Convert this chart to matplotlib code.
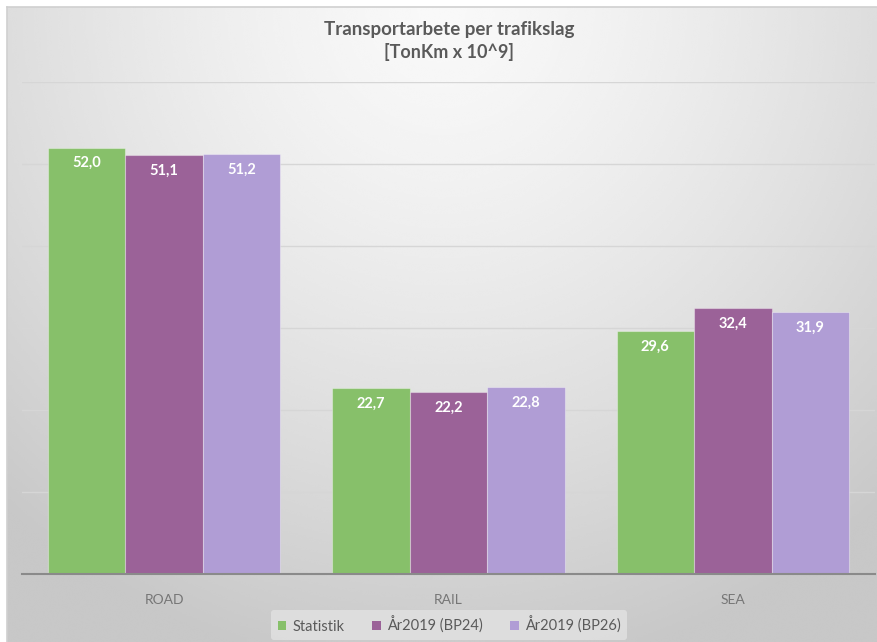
import numpy as np
import matplotlib.pyplot as plt
from matplotlib.patches import Patch

plt.rcParams["font.family"] = ["Lato", "DejaVu Sans"]

categories = ["ROAD", "RAIL", "SEA"]
series_names = ["Statistik", "År2019 (BP24)", "År2019 (BP26)"]
statistik = [52.0, 22.7, 29.6]
bp24 = [51.1, 22.2, 32.4]
bp26 = [51.2, 22.8, 31.9]
colors = ["#87c06a", "#9b6298", "#b09dd5"]

fig = plt.figure(figsize=(8.77, 6.42), dpi=100, facecolor="white")

# soft radial background, bright at top centre
bg = fig.add_axes([7 / 877, 0, 870 / 877, 635 / 642])
yy, xx = np.mgrid[0:1:300j, 0:1:400j]
dist = np.sqrt(((xx - 0.5) / 0.75) ** 2 + ((1 - yy) / 1.05) ** 2)
shade = 0.975 - 0.19 * np.clip(dist, 0, 1) ** 1.4
bg.imshow(shade, cmap="gray", vmin=0, vmax=1, origin="lower",
          extent=[0, 1, 0, 1], aspect="auto", interpolation="bicubic")
bg.set_xlim(0, 1)
bg.set_ylim(0, 1)
bg.axis("off")
bg.plot([0, 0], [0, 1], color="#d0d0d0", lw=1.2, clip_on=False)
bg.plot([0, 1], [1, 1], color="#d0d0d0", lw=1.2, clip_on=False)

ax = fig.add_axes([22 / 877, 68 / 642, 853 / 877, 492 / 642])
ax.patch.set_alpha(0)

x = np.arange(len(categories))
w = 0.2726
for i, (vals, name, col) in enumerate(zip([statistik, bp24, bp26], series_names, colors)):
    pos = x + (i - 1) * w
    bars = ax.bar(pos, vals, width=w, color=col, label=name,
                  edgecolor=(1, 1, 1, 0.35), linewidth=0.8, zorder=3)
    for b, v in zip(bars, vals):
        ax.text(b.get_x() + b.get_width() / 2, v - 1.9, f"{v:.1f}".replace(".", ","),
                ha="center", va="center", color="white", fontsize=10.5,
                fontweight="bold", zorder=4)

ax.set_xlim(-0.5, 2.5)
ax.set_ylim(0, 60)
ax.set_yticks(np.arange(0, 61, 10))
ax.yaxis.grid(True, color="#d6d6d6", lw=1.0, zorder=0)
ax.tick_params(axis="y", left=False, labelleft=False)
ax.tick_params(axis="x", bottom=False, pad=11, labelsize=10, labelcolor="#767676")
ax.set_xticks(x)
ax.set_xticklabels(categories)
for side in ["top", "right", "left"]:
    ax.spines[side].set_visible(False)
ax.spines["bottom"].set_color("#8a8a8a")
ax.spines["bottom"].set_linewidth(1.5)
ax.spines["bottom"].set_zorder(5)

fig.text(449 / 877, 1 - 30 / 642, "Transportarbete per trafikslag", ha="center", va="center",
         fontsize=13.5, fontweight="bold", color="#5a5a5a")
fig.text(449 / 877, 1 - 52 / 642, "[TonKm x 10^9]", ha="center", va="center",
         fontsize=13, fontweight="bold", color="#5a5a5a")

handles = [Patch(facecolor=c, label=n) for c, n in zip(colors, series_names)]
leg = fig.legend(handles=handles, loc="center", bbox_to_anchor=(449 / 877, 1 - 625 / 642),
                 ncol=3, frameon=True, fontsize=10.5, handlelength=0.6, handleheight=0.6,
                 handletextpad=0.4, columnspacing=1.9, borderpad=0.45)
leg.get_frame().set_facecolor("#e2e2e2")
leg.get_frame().set_edgecolor("none")
leg.get_frame().set_alpha(0.8)
for t in leg.get_texts():
    t.set_color("#5a5a5a")

fig.savefig("out.png", dpi=100)
